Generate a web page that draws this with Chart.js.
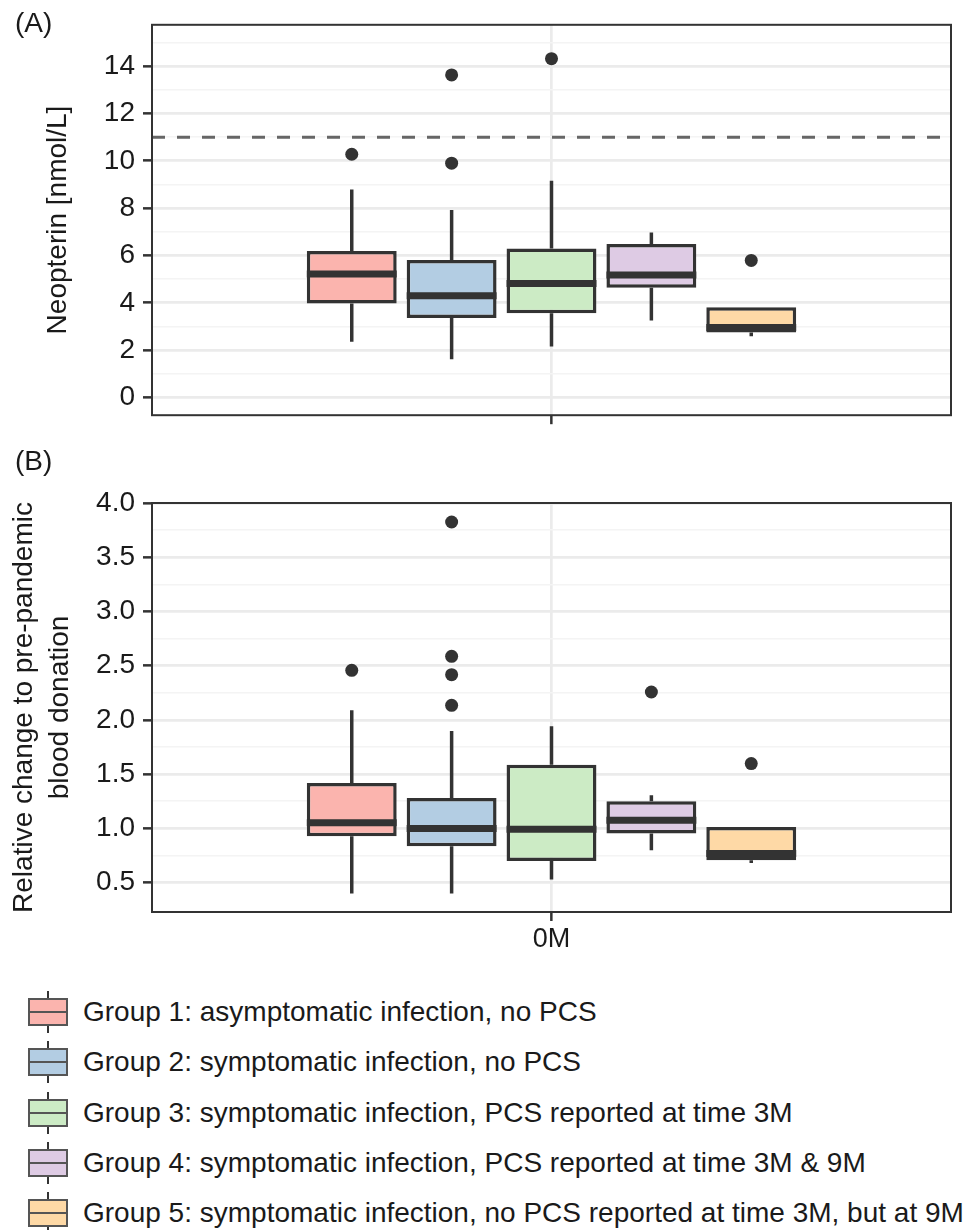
<!DOCTYPE html>
<html>
<head>
<meta charset="utf-8">
<script src="https://cdn.jsdelivr.net/npm/chart.js@4.4.1/dist/chart.umd.min.js"></script>
<style>
  body { margin: 0; background: #fff; font-family: 'Liberation Sans', Arial, sans-serif; color: #1a1a1a; }
  #fig { position: relative; width: 971px; height: 1230px; overflow: hidden; background: #fff; }
  canvas { position: absolute; left: 0; }
  .tag { position: absolute; left: 15px; font-size: 28px; line-height: 28px; }
  .row { position: absolute; left: 28px; height: 42px; display: flex; align-items: center; font-size: 28px; white-space: nowrap; }
  .key { position: relative; width: 40px; height: 42px; margin-right: 15px; flex: none; }
  .key .wh { position: absolute; left: 19px; top: 0; width: 2px; height: 42px; background: #333; }
  .key .bx { position: absolute; left: 0; top: 7px; width: 36px; height: 24px; border: 2px solid #555; }
  .key .md { position: absolute; left: 0; top: 20px; width: 40px; height: 2px; background: #555; }
</style>
</head>
<body>
<div id="fig">
  <canvas id="chartA" width="971" height="440" style="top:0"></canvas>
  <canvas id="chartB" width="971" height="520" style="top:440px"></canvas>
  <div class="tag" style="top:9px">(A)</div>
  <div class="tag" style="top:447px">(B)</div>
  <div id="legend"></div>
</div>
<script>
const groupLabels = [
    'Group 1: asymptomatic infection, no PCS',
    'Group 2: symptomatic infection, no PCS',
    'Group 3: symptomatic infection, PCS reported at time 3M',
    'Group 4: symptomatic infection, PCS reported at time 3M & 9M',
    'Group 5: symptomatic infection, no PCS reported at time 3M, but at 9M'
];
const groupColors = ['#FBB4AE', '#B3CDE3', '#CCEBC5', '#DECBE4', '#FED9A6'];
const xLabels = ['0M'];

// (A) neopterin, nmol/L
const neoMin = [2.35, 1.61, 2.15, 3.25, 2.59];
const neoQ1 = [3.97, 3.36, 3.56, 4.64, 2.75];
const neoMedian = [5.22, 4.30, 4.82, 5.18, 2.96];
const neoQ3 = [6.19, 5.81, 6.30, 6.49, 3.81];
const neoMax = [8.79, 7.92, 9.16, 6.97, 3.81];
const neoOutliers = [[10.28], [13.63, 9.90], [14.32], [], [5.79]];
const neoCutoff = 11;
const yTicksA = [0, 2, 4, 6, 8, 10, 12, 14];
const yMinorA = [1, 3, 5, 7, 9, 11, 13, 15];

// (B) relative change to pre-pandemic donation
const relMin = [0.398, 0.398, 0.527, 0.797, 0.680];
const relQ1 = [0.926, 0.834, 0.698, 0.951, 0.705];
const relMedian = [1.052, 0.997, 0.991, 1.074, 0.767];
const relQ3 = [1.418, 1.279, 1.587, 1.249, 1.012];
const relMax = [2.088, 1.897, 1.941, 1.304, 1.012];
const relOutliers = [[2.457], [3.825, 2.586, 2.417, 2.134], [], [2.257], [1.597]];
const yTicksB = [0.5, 1.0, 1.5, 2.0, 2.5, 3.0, 3.5, 4.0];
const yMinorB = [0.75, 1.25, 1.75, 2.25, 2.75, 3.25, 3.75];

const DODGE = 0.15;
const BOX = 0.9;
const INK = '#333333';
const TEXT = '#1a1a1a';
const FONT = "'Liberation Sans', Arial, sans-serif";

function groupX(i) {
    return (i - (groupLabels.length - 1) / 2) * DODGE;
}

function buildDatasets(min, q1, med, q3, max, outliers, cutoff) {
    const half = DODGE * BOX / 2;
    const whiskers = [];
    const medians = [];
    const points = [];
    groupLabels.forEach((g, i) => {
        const x = groupX(i);
        whiskers.push({x, y: q3[i]}, {x, y: max[i]}, {x, y: null});
        whiskers.push({x, y: q1[i]}, {x, y: min[i]}, {x, y: null});
        medians.push({x: x - half, y: med[i]}, {x: x + half, y: med[i]}, {x, y: null});
        outliers[i].forEach(v => points.push({x, y: v}));
    });

    const sets = [{
        type: 'bar',
        data: q1.map((v, i) => ({x: groupX(i), y: [v, q3[i]]})),
        backgroundColor: groupColors,
        borderColor: INK,
        borderWidth: 3.5,
        borderSkipped: false,
        barPercentage: BOX,
        categoryPercentage: 1,
        order: 3
    }, {
        type: 'line',
        data: whiskers,
        borderColor: INK,
        borderWidth: 3.5,
        pointRadius: 0,
        spanGaps: false,
        fill: false,
        order: 4
    }, {
        type: 'line',
        data: medians,
        borderColor: INK,
        borderWidth: 7,
        borderCapStyle: 'butt',
        pointRadius: 0,
        spanGaps: false,
        fill: false,
        order: 2
    }, {
        type: 'scatter',
        data: points,
        pointRadius: 6.5,
        pointBackgroundColor: INK,
        pointBorderWidth: 0,
        showLine: false,
        order: 1
    }];

    if (cutoff !== undefined) {
        sets.push({
            type: 'line',
            data: [{x: -0.6, y: cutoff}, {x: 0.6, y: cutoff}],
            borderColor: '#666666',
            borderWidth: 3,
            borderDash: [13, 12],
            pointRadius: 0,
            fill: false,
            order: 5
        });
    }
    return sets;
}

const framePlugin = {
    id: 'frame',
    afterDraw(chart) {
        const {ctx, chartArea: a} = chart;
        ctx.save();
        ctx.strokeStyle = INK;
        ctx.lineWidth = 2;
        ctx.strokeRect(a.left, a.top, a.right - a.left, a.bottom - a.top);
        ctx.restore();
    }
};

function makeChart(canvasId, cfg) {
    const major = cfg.major;
    const all = major.concat(cfg.minor).sort((a, b) => a - b);
    const isMajor = v => major.includes(v);

    return new Chart(document.getElementById(canvasId), {
        type: 'bar',
        data: {datasets: cfg.datasets},
        options: {
            responsive: false,
            animation: false,
            devicePixelRatio: 1,
            layout: {padding: {left: 0, right: 20, top: cfg.top, bottom: 0}, autoPadding: false},
            plugins: {legend: {display: false}, tooltip: {enabled: false}},
            scales: {
                x: {
                    type: 'linear',
                    min: -0.6,
                    max: 0.6,
                    offset: false,
                    afterBuildTicks: s => { s.ticks = [{value: 0}]; },
                    afterFit: s => { s.height = cfg.xHeight; },
                    ticks: {
                        callback: (v, i) => cfg.showX ? xLabels[i] : '',
                        font: {family: FONT, size: 27},
                        color: TEXT,
                        padding: 2,
                        maxRotation: 0,
                        autoSkip: false
                    },
                    grid: {color: '#ebebeb', lineWidth: 2.7, tickLength: 9, tickColor: INK, tickWidth: 2.5, offset: false},
                    border: {display: false}
                },
                y: {
                    type: 'linear',
                    min: cfg.min,
                    max: cfg.max,
                    afterBuildTicks: s => { s.ticks = all.map(v => ({value: v})); },
                    afterFit: s => { s.width = 152; },
                    ticks: {
                        callback: v => isMajor(v) ? cfg.fmt(v) : '',
                        font: {family: FONT, size: 28},
                        color: TEXT,
                        padding: 8,
                        autoSkip: false
                    },
                    grid: {
                        color: c => isMajor(c.tick.value) ? '#ebebeb' : '#f4f4f4',
                        lineWidth: c => isMajor(c.tick.value) ? 2.7 : 1.5,
                        tickColor: c => isMajor(c.tick.value) ? INK : 'rgba(0,0,0,0)',
                        tickWidth: 2.5,
                        tickLength: 9
                    },
                    border: {display: false},
                    title: {
                        display: true,
                        text: cfg.title,
                        color: TEXT,
                        font: {family: FONT, size: 28, lineHeight: cfg.titleLine},
                        padding: {top: cfg.titlePad, bottom: 0}
                    }
                }
            }
        },
        plugins: [framePlugin]
    });
}

makeChart('chartA', {
    datasets: buildDatasets(neoMin, neoQ1, neoMedian, neoQ3, neoMax, neoOutliers, neoCutoff),
    min: -0.75, max: 15.75,
    major: yTicksA, minor: yMinorA,
    fmt: v => String(v),
    title: 'Neopterin [nmol/L]',
    titleLine: 1.2, titlePad: 41,
    top: 17, xHeight: 15, showX: false
});

makeChart('chartB', {
    datasets: buildDatasets(relMin, relQ1, relMedian, relQ3, relMax, relOutliers),
    min: 0.228, max: 4.0,
    major: yTicksB, minor: yMinorB,
    fmt: v => v.toFixed(1),
    title: ['Relative change to pre-pandemic', 'blood donation'],
    titleLine: 1.3, titlePad: 6,
    top: 63, xHeight: 48, showX: true
});

const legend = document.getElementById('legend');
groupLabels.forEach((label, i) => {
    const row = document.createElement('div');
    row.className = 'row';
    row.style.top = (1012 + i * 50.25 - 21) + 'px';
    row.innerHTML = '<div class="key"><div class="wh"></div><div class="bx" style="background:' +
        groupColors[i] + '"></div><div class="md"></div></div><span></span>';
    row.querySelector('span').textContent = label;
    legend.appendChild(row);
});
</script>
</body>
</html>
